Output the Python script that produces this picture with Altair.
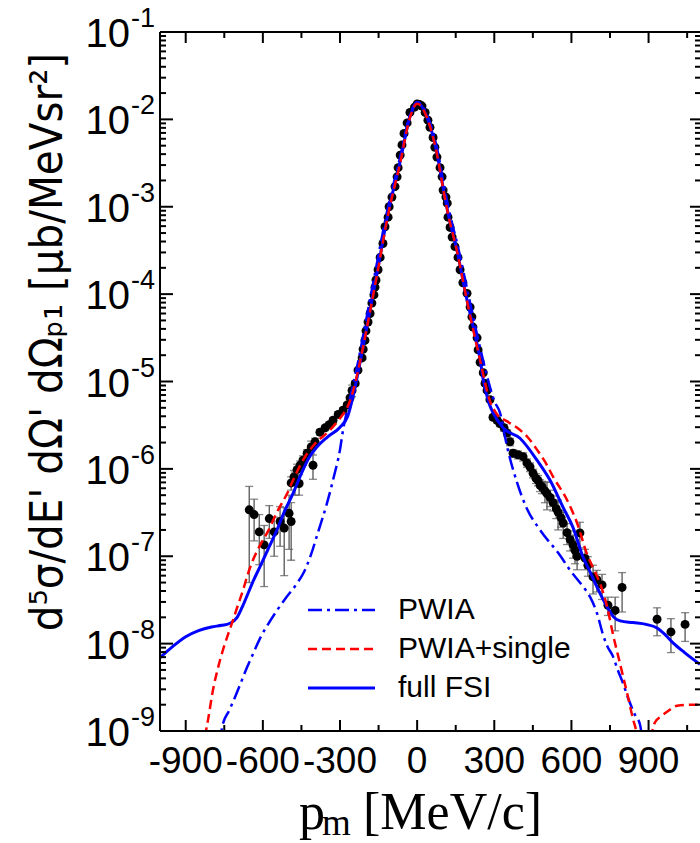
import altair as alt
import pandas as pd

# ---------------- curves (x in MeV/c, cross section in ub/MeV sr^2) -------------
fsi_x = [-1000, -950, -900, -850, -800, -760, -730, -700, -680, -657, -635, -611, -580,
         -545, -515, -483, -450, -420, -390, -350, -300, -270, -250, -230, -210, -191,
         -156, -113, -66, -28, 0, 38, 77, 101, 120, 155, 194, 220, 245, 257, 280, 295,
         334, 400, 466, 517, 568, 606, 645, 673, 700, 739, 765, 790, 840, 890, 933, 965,
         995, 1040, 1100]
fsi_y = [6.9e-9, 9.3e-9, 1.2e-8, 1.41e-8, 1.55e-8, 1.62e-8, 1.70e-8, 2.0e-8, 2.63e-8, 3.8e-8,
         5.4e-8, 7.6e-8, 1.2e-7, 2.0e-7, 3.3e-7, 5.2e-7, 8.9e-7, 1.35e-6, 1.78e-6, 2.3e-6,
         3.0e-6, 4.0e-6, 6.6e-6, 1.26e-5, 2.5e-5, 5.0e-5, 1.74e-4, 8.5e-4, 3.3e-3, 1.07e-2,
         1.55e-2, 1.07e-2, 4.1e-3, 1.66e-3, 8.5e-4, 3.16e-4, 8.5e-5, 4.0e-5, 1.78e-5, 1.05e-5,
         5.6e-6, 4.4e-6, 2.95e-6, 2.24e-6, 1.26e-6, 7.4e-7, 3.6e-7, 2.14e-7, 9.8e-8, 6.6e-8,
         4.4e-8, 2.63e-8, 2.0e-8, 1.82e-8, 1.74e-8, 1.66e-8, 1.51e-8, 1.26e-8, 1.02e-8, 7.9e-9,
         5.8e-9]

single_x = [-830, -821, -813, -794, -775, -755, -736, -716, -697, -677, -658, -638, -610, -583,
            -545, -506, -475, -444, -400, -338, -300, -270, -250, -230, -210, -191, -156, -113,
            -66, -28, 0, 38, 77, 101, 120, 155, 194, 245, 283, 311, 350, 389, 430, 466, 500,
            529, 583, 622, 661, 690, 711, 739, 762, 785, 801, 820, 840, 852, 870, 895, 912, 925,
            950, 972, 1011, 1061, 1100]
single_y = [6e-10, 1.0e-9, 1.35e-9, 2.95e-9, 5.2e-9, 8.5e-9, 1.26e-8, 1.86e-8, 2.75e-8, 4.1e-8,
            6.3e-8, 9.1e-8, 1.35e-7, 1.86e-7, 3.2e-7, 5.2e-7, 8.3e-7, 1.26e-6, 1.9e-6, 2.8e-6,
            3.8e-6, 5.2e-6, 7.6e-6, 1.32e-5, 2.5e-5, 4.8e-5, 1.66e-4, 8.1e-4, 3.16e-3, 1.05e-2,
            1.51e-2, 1.05e-2, 4.0e-3, 1.62e-3, 8.3e-4, 3.1e-4, 8.3e-5, 1.74e-5, 6.0e-6, 4.2e-6,
            3.5e-6, 2.95e-6, 2.3e-6, 1.66e-6, 1.17e-6, 8.1e-7, 4.4e-7, 2.4e-7, 1.05e-7, 6.8e-8,
            4.9e-8, 2.63e-8, 1.26e-8, 6.6e-9, 4.2e-9, 2.45e-9, 1.35e-9, 1.0e-9, 4e-10, 3e-10,
            9e-10, 1.26e-9, 1.48e-9, 1.66e-9, 1.95e-9, 2.0e-9, 2.0e-9]

pwia_x = [-770, -758, -730, -708, -685, -661, -636, -611, -580, -545, -505, -467, -440, -416,
          -385, -350, -325, -300, -288, -270, -250, -230, -205, -165, -118, -68, -29, 0, 40,
          80, 105, 125, 162, 203, 255, 283, 300, 322, 350, 389, 427, 478, 556, 595, 640, 673,
          700, 723, 740, 762, 780, 801, 820, 845, 867, 880]
pwia_y = [6e-10, 1.12e-9, 1.74e-9, 2.45e-9, 3.6e-9, 5.4e-9, 7.9e-9, 1.15e-8, 1.66e-8, 2.4e-8,
          3.5e-8, 4.9e-8, 6.6e-8, 9.8e-8, 1.9e-7, 4.1e-7, 7.9e-7, 1.66e-6, 2.8e-6, 5.0e-6,
          8.9e-6, 1.66e-5, 4.0e-5, 1.66e-4, 8.5e-4, 3.5e-3, 1.1e-2, 1.58e-2, 1.1e-2, 4.3e-3,
          1.7e-3, 8.9e-4, 3.16e-4, 8.7e-5, 1.82e-5, 8.7e-6, 6.0e-6, 4.4e-6, 1.78e-6, 6.9e-7,
          3.5e-7, 2.0e-7, 1.02e-7, 6.9e-8, 4.7e-8, 3.4e-8, 2.2e-8, 1.26e-8, 9.3e-9, 7.1e-9,
          5.0e-9, 3.5e-9, 2.4e-9, 1.58e-9, 1.17e-9, 6e-10]

# ---------------- experimental points ----------------
exp_x = [-653, -634, -614, -595, -575, -556, -533, -517, -498, -490, -490, -479, -475, -467,
         -459, -455, -444, -428, -412, -405, -397, -378, -358, -342, -327, -307, -288, -272,
         -261, -253, -241, -230, -214, -210, -203, -199, -191, -183, -176, -168, -164, -160,
         -152, -144, -133, -125, -113, -109, -98, -86, -78, -74, -66, -59, -51, -39, -28, -10,
         0, 9, 19, 31, 42, 50, 62, 69, 77, 89, 97, 101, 112, 117, 120, 128, 136, 147, 159,
         167, 178, 194, 206, 213, 217, 233, 237, 245, 257, 264, 272, 283, 295, 311, 322, 338,
         350, 361, 373, 392, 412, 427, 439, 451, 462, 470, 478, 486, 497, 505, 517, 529, 541,
         548, 560, 568, 583, 595, 606, 614, 622, 633, 653, 664, 684, 699, 719, 742, 770, 797,
         933, 987, 1042]
exp_y = [3.4e-7, 3.0e-7, 1.9e-7, 1.35e-7, 2.7e-7, 1.9e-7, 2.5e-7, 2.1e-7, 3.1e-7, 2.5e-7,
         6.9e-7, 8.1e-7, 7.1e-7, 9.8e-7, 6.8e-7, 1.1e-6, 1.26e-6, 1.51e-6, 1.78e-6, 1.1e-6,
         2.04e-6, 2.63e-6, 2.95e-6, 3.2e-6, 3.6e-6, 4.2e-6, 4.7e-6, 5.4e-6, 6.5e-6, 7.9e-6,
         9.5e-6, 1.35e-5, 1.86e-5, 2.34e-5, 2.95e-5, 3.8e-5, 4.8e-5, 6.0e-5, 7.9e-5, 9.8e-5,
         1.2e-4, 1.45e-4, 1.9e-4, 2.63e-4, 3.8e-4, 5.9e-4, 7.6e-4, 1.0e-3, 1.29e-3, 1.7e-3,
         2.2e-3, 2.8e-3, 3.9e-3, 5.1e-3, 6.9e-3, 9.1e-3, 1.2e-2, 1.38e-2, 1.5e-2, 1.48e-2,
         1.42e-2, 1.2e-2, 9.8e-3, 8.1e-3, 6.2e-3, 4.8e-3, 3.7e-3, 2.8e-3, 2.2e-3, 1.55e-3,
         1.29e-3, 1.1e-3, 7.6e-4, 5.8e-4, 4.5e-4, 3.5e-4, 2.63e-4, 1.9e-4, 1.35e-4, 1.02e-4,
         7.1e-5, 5.5e-5, 4.2e-5, 3.16e-5, 2.3e-5, 1.66e-5, 1.26e-5, 9.5e-6, 7.9e-6, 6.2e-6,
         3.9e-6, 3.6e-6, 3.3e-6, 2.95e-6, 2.57e-6, 2.04e-6, 1.51e-6, 1.45e-6, 1.38e-6, 1.17e-6,
         1.05e-6, 8.9e-7, 7.8e-7, 7.4e-7, 6.5e-7, 6.2e-7, 5.6e-7, 5.2e-7, 4.7e-7, 4.1e-7,
         3.5e-7, 3.2e-7, 2.75e-7, 2.4e-7, 1.86e-7, 1.55e-7, 1.35e-7, 1.17e-7, 1.0e-7, 1.85e-7,
         9.5e-8, 7.9e-8, 5.8e-8, 5.4e-8, 4.7e-8, 2.75e-8, 2.4e-8, 4.4e-8, 1.9e-8, 1.36e-8,
         1.66e-8]
exp_err = [2.9e-7, 1.5e-7, 1.1e-7, 0.9e-7, 1.1e-7, 0.9e-7, 1.2e-7, 1.5e-7, 1.9e-7, 1.6e-7,
           1.2e-7, 1.5e-7, 2.1e-7, 1.5e-7, 1.8e-7, 1.3e-7, 1.5e-7, 1.5e-7, 3.0e-7, 3.4e-7,
           2.0e-7, 2.0e-7, 2.0e-7, 2.2e-7, 2.5e-7, 3.0e-7, 3.5e-7, 3.0e-7, 3.0e-7, 1.2e-6,
           5e-7, 5e-7, 7e-7, 9e-7, 1.1e-6, 1.4e-6, 1.8e-6, 2.2e-6, 2.9e-6, 3.6e-6,
           4.4e-6, 5.3e-6, 7e-6, 9.6e-6, 1.4e-5, 2.2e-5, 2.8e-5, 3.7e-5, 4.7e-5, 6.2e-5,
           8e-5, 1.0e-4, 1.4e-4, 1.9e-4, 2.5e-4, 3.3e-4, 4.4e-4, 5e-4, 5.5e-4, 5.3e-4,
           5.2e-4, 4.4e-4, 3.6e-4, 3e-4, 2.3e-4, 1.8e-4, 1.4e-4, 1.0e-4, 8e-5, 5.7e-5,
           4.7e-5, 4e-5, 2.8e-5, 2.1e-5, 1.6e-5, 1.3e-5, 9.6e-6, 7e-6, 5e-6, 3.7e-6,
           2.6e-6, 2e-6, 1.5e-6, 1.2e-6, 8.4e-7, 6e-7, 5e-7, 4e-7, 3.5e-7, 3e-7,
           2.5e-7, 2.5e-7, 2.5e-7, 2.5e-7, 2.2e-7, 2e-7, 1.5e-7, 1.5e-7, 1.5e-7, 1.3e-7,
           1.2e-7, 1.0e-7, 1.0e-7, 1.0e-7, 1.0e-7, 1.0e-7, 1.5e-7, 1.8e-7, 1.0e-7, 0.8e-7,
           0.8e-7, 1.2e-7, 0.6e-7, 0.8e-7, 0.5e-7, 0.4e-7, 0.4e-7, 0.35e-7, 0.3e-7, 0.6e-7,
           2.5e-8, 2.0e-8, 2.1e-8, 1.5e-8, 1.5e-8, 0.65e-8, 1.0e-8, 2.1e-8, 0.67e-8, 0.57e-8,
           0.6e-8]

# ---------------- axes ----------------
x_ticks_major = [-900, -600, -300, 0, 300, 600, 900]
x_tick_labels = ["-900", "-600", "-300", "0", "300", "600", "900"]
x_ticks_minor = [-750, -450, -150, 150, 450, 750, 1050]
y_decades = [1e-9, 1e-8, 1e-7, 1e-6, 1e-5, 1e-4, 1e-3, 1e-2, 1e-1]
y_exponents = ["-9", "-8", "-7", "-6", "-5", "-4", "-3", "-2", "-1"]
y_minor_mult = [2, 3, 4, 5, 6, 7, 8, 9]
y_ticks_minor = [m * d for d in y_decades[:-1] for m in y_minor_mult]

legend_labels = ["PWIA", "PWIA+single", "full FSI"]

W, H = 540, 699
SANS = "Liberation Sans, Arial, Helvetica, sans-serif"
SERIF = "Liberation Serif, Times New Roman, serif"
NARROW = "Liberation Sans Narrow, DejaVu Sans Condensed, Liberation Sans, sans-serif"
BLUE = "#0000ff"
RED = "#ff0000"

xs = alt.Scale(domain=[-1000, 1100], nice=False, zero=False)
ys = alt.Scale(type="log", domain=[1e-9, 1e-1], nice=False)

fsi = pd.DataFrame({"x": fsi_x, "y": fsi_y})
single = pd.DataFrame({"x": single_x, "y": single_y})
pwia = pd.DataFrame({"x": pwia_x, "y": pwia_y})
exp = pd.DataFrame({"x": exp_x, "y": exp_y, "e": exp_err})
exp["lo"] = exp["y"] - exp["e"]
exp["hi"] = exp["y"] + exp["e"]
one = pd.DataFrame({"a": [0]})

X = alt.X("x:Q", scale=xs, axis=None)
Y = alt.Y("y:Q", scale=ys, axis=None)

# error bars + caps
err_bar = alt.Chart(exp).mark_rule(color="#555555", strokeWidth=1.3).encode(
    x=X, y=alt.Y("lo:Q", scale=ys, axis=None), y2="hi:Q")
cap_lo = alt.Chart(exp).mark_tick(orient="horizontal", size=8, thickness=1.3,
                                  color="#555555").encode(
    x=X, y=alt.Y("lo:Q", scale=ys, axis=None))
cap_hi = alt.Chart(exp).mark_tick(orient="horizontal", size=8, thickness=1.3,
                                  color="#555555").encode(
    x=X, y=alt.Y("hi:Q", scale=ys, axis=None))
points = alt.Chart(exp).mark_circle(size=80, color="black", opacity=1).encode(x=X, y=Y)

fsi_line = alt.Chart(fsi).mark_line(color=BLUE, strokeWidth=3, clip=True,
                                    interpolate="monotone").encode(x=X, y=Y)
pwia_line = alt.Chart(pwia).mark_line(color=BLUE, strokeWidth=2.5, clip=True,
                                      strokeDash=[14, 5, 3, 5],
                                      interpolate="monotone").encode(x=X, y=Y)
single_line = alt.Chart(single).mark_line(color=RED, strokeWidth=2.5, clip=True,
                                          strokeDash=[9, 5],
                                          interpolate="monotone").encode(x=X, y=Y)

# frame
frame_top = alt.Chart(one).mark_rule(color="black", strokeWidth=2).encode(
    x=alt.value(0), x2=alt.value(W), y=alt.value(0))
frame_bottom = alt.Chart(one).mark_rule(color="black", strokeWidth=2).encode(
    x=alt.value(0), x2=alt.value(W), y=alt.value(H))
frame_left = alt.Chart(one).mark_rule(color="black", strokeWidth=2).encode(
    x=alt.value(0), y=alt.value(0), y2=alt.value(H))

# inward ticks
ymaj = pd.DataFrame({"v": y_decades})
ymin = pd.DataFrame({"v": y_ticks_minor})
xmaj = pd.DataFrame({"v": x_ticks_major, "lab": x_tick_labels})
xmin = pd.DataFrame({"v": x_ticks_minor})
VY = alt.Y("v:Q", scale=ys, axis=None)
VX = alt.X("v:Q", scale=xs, axis=None)
tk = dict(color="black", strokeWidth=2)
ticks = [
    alt.Chart(ymaj).mark_rule(**tk).encode(y=VY, x=alt.value(0), x2=alt.value(13)),
    alt.Chart(ymin).mark_rule(**tk).encode(y=VY, x=alt.value(0), x2=alt.value(6)),
    alt.Chart(ymaj).mark_rule(**tk).encode(y=VY, x=alt.value(W - 10), x2=alt.value(W)),
    alt.Chart(ymin).mark_rule(**tk).encode(y=VY, x=alt.value(W - 5), x2=alt.value(W)),
    alt.Chart(xmaj).mark_rule(**tk).encode(x=VX, y=alt.value(H - 11), y2=alt.value(H)),
    alt.Chart(xmin).mark_rule(**tk).encode(x=VX, y=alt.value(H - 6), y2=alt.value(H)),
    alt.Chart(xmaj).mark_rule(**tk).encode(x=VX, y=alt.value(0), y2=alt.value(11)),
    alt.Chart(xmin).mark_rule(**tk).encode(x=VX, y=alt.value(0), y2=alt.value(6)),
]

# x tick labels
xlab = alt.Chart(xmaj).mark_text(align="center", baseline="top", font=SANS,
                                 fontSize=37, color="black").encode(
    x=VX, y=alt.value(H + 13), text="lab:N")

# y tick labels 10^k
ylab = pd.DataFrame({"v": y_decades, "ex": y_exponents})
ylab_base = alt.Chart(ylab).mark_text(align="right", baseline="middle", font=SANS,
                                      fontSize=40, dy=3, color="black").encode(
    y=VY, x=alt.value(-30), text=alt.value("10"))
ylab_exp = alt.Chart(ylab).mark_text(align="left", baseline="middle", font=SANS,
                                     fontSize=27, dy=-13, color="black").encode(
    y=VY, x=alt.value(-29), text="ex:N")

# axis titles
ytitle = alt.Chart(one).mark_text(angle=270, align="center", baseline="middle",
                                  font=NARROW, fontSize=45, color="black").encode(
    x=alt.value(-112), y=alt.value(310),
    text=alt.value("d\u2075\u03c3/dE' d\u03a9' d\u03a9\u209a\u2081 [\u03bcb/MeVsr\u00b2]"))
xt_p = alt.Chart(one).mark_text(align="left", baseline="alphabetic", font=SERIF,
                                fontSize=52, color="black").encode(
    x=alt.value(139), y=alt.value(797), text=alt.value("p"))
xt_m = alt.Chart(one).mark_text(align="left", baseline="alphabetic", font=SERIF,
                                fontSize=37, color="black").encode(
    x=alt.value(162), y=alt.value(803), text=alt.value("m"))
xt_u = alt.Chart(one).mark_text(align="left", baseline="alphabetic", font=SERIF,
                                fontSize=52, color="black").encode(
    x=alt.value(203), y=alt.value(797), text=alt.value("[MeV/c]"))

# legend
leg_y = [578, 617, 656]
leg = [
    alt.Chart(one).mark_rule(color=BLUE, strokeWidth=2.5, strokeDash=[14, 5, 3, 5]).encode(
        x=alt.value(148), x2=alt.value(215), y=alt.value(leg_y[0])),
    alt.Chart(one).mark_rule(color=RED, strokeWidth=2.5, strokeDash=[9, 5]).encode(
        x=alt.value(148), x2=alt.value(215), y=alt.value(leg_y[1])),
    alt.Chart(one).mark_rule(color=BLUE, strokeWidth=3).encode(
        x=alt.value(148), x2=alt.value(215), y=alt.value(leg_y[2])),
]
leg_txt = [
    alt.Chart(one).mark_text(align="left", baseline="middle", font=SANS, fontSize=30,
                             color="black").encode(
        x=alt.value(238), y=alt.value(leg_y[i]), text=alt.value(legend_labels[i]))
    for i in range(3)
]

chart = alt.layer(
    err_bar, cap_lo, cap_hi, points, fsi_line, pwia_line, single_line,
    frame_top, frame_bottom, frame_left, *ticks, xlab, ylab_base, ylab_exp,
    ytitle, xt_p, xt_m, xt_u, *leg, *leg_txt
).properties(
    width=W, height=H,
    padding={"left": 160, "top": 32, "right": 0, "bottom": 112},
    autosize=alt.AutoSizeParams(type="none"),
    background="white",
).configure_view(stroke=None)

chart.save("out.html", embed_options={"renderer": "svg", "actions": False})
